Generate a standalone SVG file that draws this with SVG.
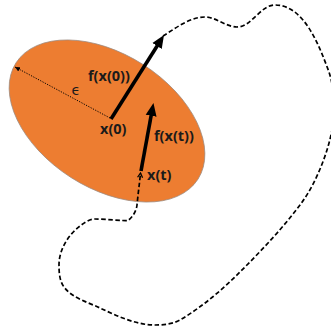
<svg xmlns="http://www.w3.org/2000/svg" width="331" height="332" viewBox="0 0 331 332">
<style>
.lbl{font-family:"Open Sans","Liberation Sans",sans-serif;font-weight:bold;font-size:14.5px;fill:#1a1a1a}
.eps{font-family:"DejaVu Sans","Noto Sans",sans-serif;font-size:14px;fill:#1a1a1a}
.thick{stroke:#000;stroke-width:3.6;fill:none}
.traj{stroke:#000;stroke-width:1.7;fill:none;stroke-dasharray:4.5 2.5}
</style>
<defs>
<marker id="headBig" markerUnits="userSpaceOnUse" markerWidth="14" markerHeight="12" refX="1" refY="5.5" orient="auto" viewBox="0 0 14 11">
<path d="M0,0 L13,5.5 L0,11 Z" fill="#000"/>
</marker>
<marker id="headOpen" markerUnits="userSpaceOnUse" markerWidth="8" markerHeight="8" refX="5" refY="3" orient="auto" viewBox="0 0 8 6">
<path d="M0.5,0.5 L5,3 L0.5,5.5" fill="none" stroke="#000" stroke-width="1.3"/>
</marker>
<marker id="headSmall" markerUnits="userSpaceOnUse" markerWidth="6" markerHeight="6" refX="5" refY="2.5" orient="auto" viewBox="0 0 6 5">
<path d="M0,0 L5,2.5 L0,5 Z" fill="#000"/>
</marker>
</defs>
<g id="region">
<ellipse cx="107" cy="121" rx="108" ry="67" transform="rotate(32.6 107 121)" fill="#ED7D31" stroke="#9a8a80" stroke-width="0.7"/>
</g>
<g id="connectors">
<path id="radius" d="M110,118 L15,67" stroke="#000" stroke-width="1" stroke-dasharray="1.2 1.4" fill="none" marker-end="url(#headSmall)"/>
<path id="trajectory" class="traj" marker-end="url(#headOpen)" d="M163,36 C176,28 190,17 205,17 C216,17 226,27 237,27 C251.6,27 260.4,5 275,5 C304,5 319,45 329,72 C333,84 334,97 334,110 C334,123.5 331,137 327,150 C321,169 312,189 300,205 C282,229 261,251 240,272 C222,290 202,307 180,320 C173,324 163.5,325 155,325 C136,325 117,316 100,308 C87.5,302 72,298 64,287 C59.5,281 59,272.5 59,265 C59,250 68,235 80,226 C84.4,222.7 89.5,219 95,219 C106,219 122,221 128,220.5 C132.8,216.9 136.4,211 137,205 C138,194.4 139.5,183.6 140.5,173"/>
<path id="f-x0" class="thick" d="M111,119 L157.6,45.2" marker-end="url(#headBig)"/>
<path id="f-xt" class="thick" d="M141,171 L151.3,114.8" marker-end="url(#headBig)"/>
</g>
<g id="labels">
<text class="lbl" x="88" y="80.5">f(x(0))</text>
<text class="lbl" x="100" y="134">x(0)</text>
<text class="lbl" x="154" y="140.5">f(x(t))</text>
<text class="lbl" x="147" y="179.5">x(t)</text>
<text class="eps" x="71.5" y="95">ϵ</text>
</g>
</svg>
